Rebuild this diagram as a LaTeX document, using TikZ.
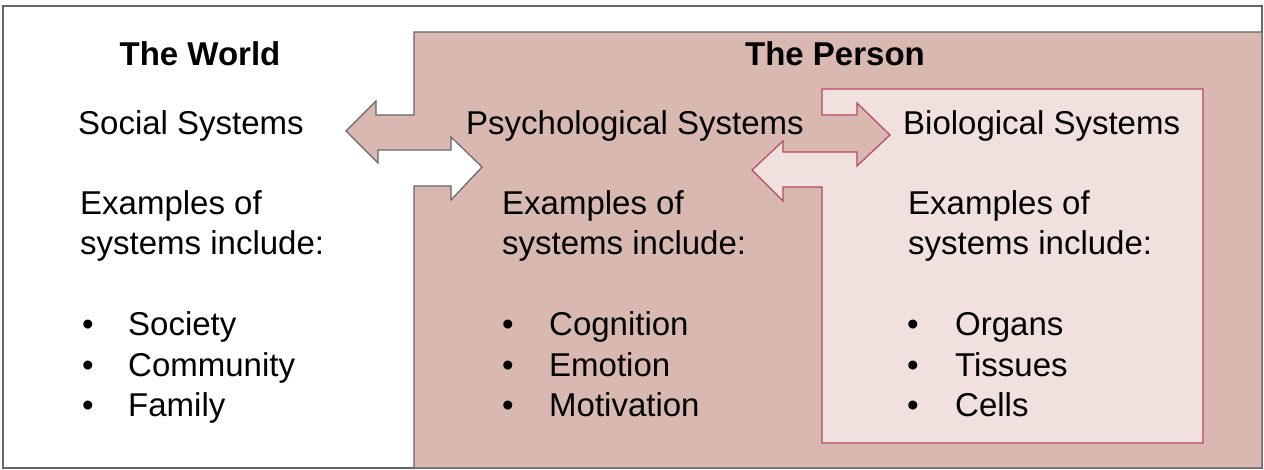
\documentclass[tikz,border=0pt]{standalone}
\usepackage{fontspec}
\setmainfont{Liberation Sans}
\begin{document}
\definecolor{pfill}{HTML}{D9B8B1}
\definecolor{bfill}{HTML}{F0E0DE}
\definecolor{bline}{HTML}{B5475F}
\definecolor{gline}{HTML}{666666}
\begin{tikzpicture}[x=1pt,y=-1pt,
  txt/.style={anchor=base west,inner sep=0pt,font=\fontsize{33}{38}\selectfont},
  ttl/.style={anchor=base,inner sep=0pt,font=\fontsize{33}{38}\selectfont\bfseries}]
\useasboundingbox (0,0) rectangle (1264,470);
\draw[gline,line width=1.5pt] (3,468) -- (3,6) -- (1262,6) -- (1262,468) -- cycle;
% The Person region
\draw[gline,line width=1.2pt,fill=pfill] (414,32) -- (1262,32) -- (1262,468) -- (414,468)
  -- (414,186) -- (451,186) -- (451,200) -- (482,167) -- (451,137) -- (451,150)
  -- (378,150) -- (378,163) -- (346,131) -- (376,101) -- (376,115) -- (414,115) -- cycle;
% Biological region
\draw[bline,line width=1.2pt,fill=bfill] (822,89) -- (1203,89) -- (1203,443) -- (822,443)
  -- (822,187) -- (783,187) -- (783,201) -- (752,170) -- (783,141) -- (783,152)
  -- (857,152) -- (857,166) -- (890,135) -- (857,103) -- (857,115) -- (822,115) -- cycle;
% Titles
\node[ttl] (tw) at (200,66) {The World};
\node[ttl] (tp) at (835,66) {The Person};
% World column
\node[txt] (ss) at (78,135) {Social Systems};
\node[txt] (w1) at (80,215) {Examples of};
\node[txt] (w2) at (80,255) {systems include:};
\node[txt] (wb1) at (82,336) {•};
\node[txt] (wb2) at (82,376) {•};
\node[txt] (wb3) at (82,416) {•};
\node[txt] (wt1) at (128,336) {Society};
\node[txt] (wt2) at (128,376) {Community};
\node[txt] (wt3) at (128,416) {Family};
% Psych column
\node[txt] (ps) at (466,135) {Psychological Systems};
\node[txt] (p1) at (502,215) {Examples of};
\node[txt] (p2) at (502,255) {systems include:};
\node[txt] (pb1) at (502,336) {•};
\node[txt] (pb2) at (502,376) {•};
\node[txt] (pb3) at (502,416) {•};
\node[txt] (pt1) at (549,336) {Cognition};
\node[txt] (pt2) at (549,376) {Emotion};
\node[txt] (pt3) at (549,416) {Motivation};
% Bio column
\node[txt] (bs) at (903,135) {Biological Systems};
\node[txt] (b1) at (908,215) {Examples of};
\node[txt] (b2) at (908,255) {systems include:};
\node[txt] (bb1) at (907,336) {•};
\node[txt] (bb2) at (907,376) {•};
\node[txt] (bb3) at (907,416) {•};
\node[txt] (bt1) at (955,336) {Organs};
\node[txt] (bt2) at (955,376) {Tissues};
\node[txt] (bt3) at (955,416) {Cells};
\end{tikzpicture}
\end{document}
